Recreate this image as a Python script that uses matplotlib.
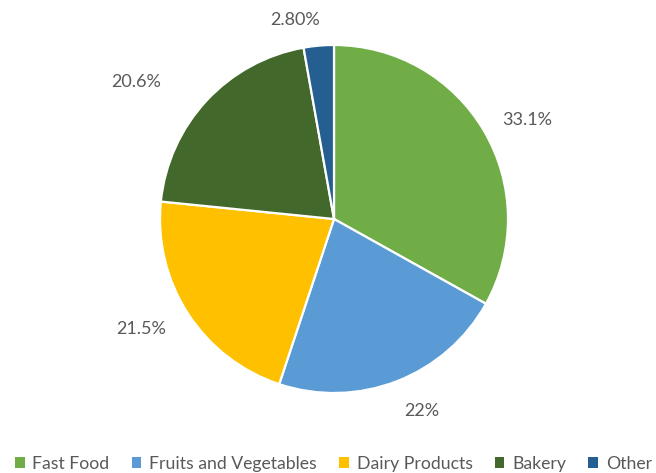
import numpy as np
import matplotlib.pyplot as plt
from matplotlib.patches import Patch

# Du lieu bieu do tron
nhom = ["Fast Food", "Fruits and Vegetables", "Dairy Products", "Bakery", "Other"]
ty_le = [33.1, 22, 21.5, 20.6, 2.8]
nhan = ["33.1%", "22%", "21.5%", "20.6%", "2.80%"]
mau = ["#70AD47", "#5B9BD5", "#FFC000", "#43682B", "#255E91"]

# Khoang cach nhan so voi tam (theo ban kinh) va do lech them (diem anh)
kc_nhan = [1.12, 1.12, 1.12, 1.24, 1.10]
lech_nhan = [(0, 0), (0, -2), (-4, -4), (-15, -10), (-22, 0)]

plt.rcParams['font.family'] = ['Lato', 'DejaVu Sans']
mau_chu = "#595959"

fig = plt.figure(figsize=(6.56, 4.73), dpi=100)
W, H = 656, 473
cx, cy, r = 334, 254, 174
ax = fig.add_axes([(cx - r) / W, (cy - r) / H, 2 * r / W, 2 * r / H])

wedges, _ = ax.pie(ty_le, colors=mau, startangle=90, counterclock=False,
                   radius=1, wedgeprops=dict(edgecolor="white", linewidth=1.6))
ax.set_xlim(-1, 1)
ax.set_ylim(-1, 1)
ax.set_aspect("equal")
ax.axis("off")

# Dat nhan phan tram ben ngoai tung mieng
for w, t, d, (lx, ly) in zip(wedges, nhan, kc_nhan, lech_nhan):
    goc = np.deg2rad((w.theta1 + w.theta2) / 2)
    x, y = d * np.cos(goc), d * np.sin(goc)
    if abs(np.cos(goc)) < 0.3:
        ha = "center"
    else:
        ha = "left" if np.cos(goc) > 0 else "right"
    if abs(np.sin(goc)) > 0.8:
        va = "bottom" if np.sin(goc) > 0 else "top"
    else:
        va = "center"
    ax.annotate(t, (x, y), xytext=(lx * 0.72, ly * 0.72), textcoords="offset points",
                ha=ha, va=va, fontsize=13, color=mau_chu, annotation_clip=False)

# Chu thich phia duoi
tay = [Patch(facecolor=c, edgecolor="none") for c in mau]
fig.legend(tay, nhom, loc="lower left", bbox_to_anchor=(6 / W, -0.016),
           ncol=5, frameon=False, fontsize=12.7, labelcolor=mau_chu,
           handlelength=0.55, handleheight=0.55, handletextpad=0.45,
           columnspacing=1.25, borderaxespad=0.1)

fig.savefig("out.png", dpi=100)
